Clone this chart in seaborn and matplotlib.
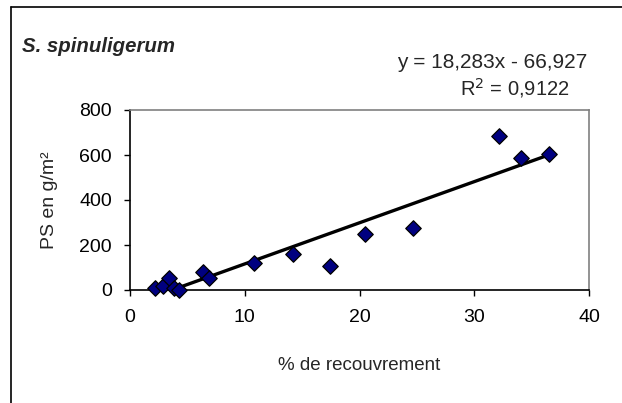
import numpy as np
import pandas as pd
import matplotlib
matplotlib.use("Agg")
import matplotlib.pyplot as plt
from matplotlib.lines import Line2D
import seaborn as sns

# Data
recouvrement = [2.2, 2.9, 3.4, 3.8, 4.3, 6.4, 6.9, 10.8, 14.2, 17.4, 20.5, 24.7, 32.2, 34.1, 36.5]
ps = [7, 19, 55, 10, 0, 81, 52, 118, 160, 107, 249, 277, 684, 588, 606]
slope = 18.283
intercept = -66.927
r2_text = "0,9122"
x_ticks = [0, 10, 20, 30, 40]
y_ticks = [0, 200, 400, 600, 800]

df = pd.DataFrame({"x": recouvrement, "y": ps})

sns.set_theme(style="white")
plt.rcParams['font.family'] = ['Liberation Sans', 'DejaVu Sans']

fig = plt.figure(figsize=(6.22, 4.03), dpi=100)
W, H = 622, 403
L, R, T, B = 130, 589, 110, 290
ax = fig.add_axes([L / W, 1 - B / H, (R - L) / W, (B - T) / H])

# trend line
xl = np.array([min(recouvrement), max(recouvrement)])
line_df = pd.DataFrame({"x": xl, "y": slope * xl + intercept})
sns.lineplot(data=line_df, x="x", y="y", ax=ax, color="black", linewidth=2.4, zorder=2)

sns.scatterplot(data=df, x="x", y="y", ax=ax, marker="D", s=62, color="#000080",
                edgecolor="black", linewidth=0.9, zorder=3, clip_on=False)

FS = 14
ax.set_xlim(0, 40)
ax.set_ylim(0, 800)
ax.set_xticks(x_ticks)
ax.set_yticks(y_ticks)
ax.tick_params(axis="both", which="major", direction="out", length=4, width=1,
               colors="black", labelsize=FS, bottom=True, left=True)
ax.tick_params(axis="x", pad=10)
ax.tick_params(axis="y", pad=9)
for s in ["left", "bottom"]:
    ax.spines[s].set_color("black")
    ax.spines[s].set_linewidth(1.2)
for s in ["top", "right"]:
    ax.spines[s].set_color("#808080")
    ax.spines[s].set_linewidth(1.2)
ax.grid(False)
ax.set_xlabel("% de recouvrement", fontsize=13.5)
ax.set_ylabel("PS en g/m²", fontsize=FS)
ax.xaxis.set_label_coords(0.5, -(366 - B) / (B - T))
ax.xaxis.label.set_va("center")
ax.yaxis.set_label_coords(-(L - 49) / (R - L), 0.5)
ax.yaxis.label.set_va("center")

fig.text(22 / W, 1 - 47 / H, "S. spinuligerum", fontsize=14.7, fontweight="bold",
         fontstyle="italic", ha="left", va="center")
fig.text(587 / W, 1 - 62 / H, "y = 18,283x - 66,927", fontsize=15, ha="right", va="center")
fig.text(570 / W, 1 - 88 / H, "R$^{2}$ = " + r2_text, fontsize=14.5, ha="right", va="center")

# outer chart frame (cropped)
fig.add_artist(Line2D([11 / W, 11 / W], [0, 1 - 7 / H], color="black", linewidth=1.2,
                      transform=fig.transFigure))
fig.add_artist(Line2D([11 / W, 1], [1 - 7 / H, 1 - 7 / H], color="black", linewidth=1.2,
                      transform=fig.transFigure))

fig.savefig("out.png", dpi=100, facecolor="white")
